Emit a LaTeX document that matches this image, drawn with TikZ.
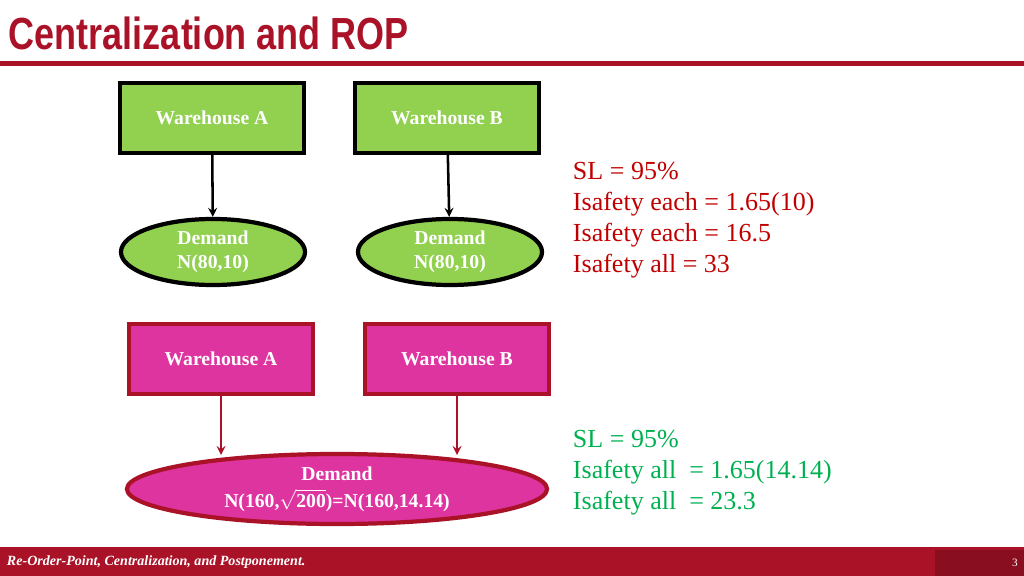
\documentclass[tikz,border=0pt]{standalone}
\usepackage{fontspec}
\setmainfont{Liberation Serif}
\newfontfamily\titlefont[FakeStretch=0.8]{Liberation Sans Bold}
\usetikzlibrary{positioning,shapes.geometric}
\definecolor{darkred}{RGB}{170,18,40}
\definecolor{txtred}{RGB}{192,0,0}
\definecolor{boxgreen}{RGB}{146,208,80}
\definecolor{boxpink}{RGB}{222,52,160}
\definecolor{txtgreen}{RGB}{0,176,80}
\tikzset{
  greenbox/.style={draw=black,line width=3pt,fill=boxgreen,minimum width=4.6cm,minimum height=1.75cm,font=\fontsize{14}{16}\selectfont\bfseries,text=white},
  pinkbox/.style={draw=darkred,line width=3pt,fill=boxpink,minimum width=4.6cm,minimum height=1.75cm,font=\fontsize{14}{16}\selectfont\bfseries,text=white},
  greenell/.style={ellipse,draw=black,line width=3pt,fill=boxgreen,minimum width=4.6cm,minimum height=1.65cm,inner sep=1pt,align=center,font=\fontsize{14}{17}\selectfont\bfseries,text=white},
  pinkell/.style={ellipse,draw=darkred,line width=3pt,fill=boxpink,minimum width=10.5cm,minimum height=1.75cm,inner sep=1pt,align=center,font=\fontsize{14}{19}\selectfont\bfseries,text=white},
  note/.style={anchor=west,align=left,font=\fontsize{18.5}{22}\selectfont}
}
\begin{document}
\begin{tikzpicture}[x=0.025cm,y=-0.025cm]
	\useasboundingbox (0,0) rectangle (1024,576);
	% title
	\node[anchor=west,text=darkred,font=\titlefont\fontsize{32}{34}\selectfont] (title) at (4,33) {Centralization and ROP};
	\fill[darkred] (0,61) rectangle (1024,66);
	% decentralized
	\node[greenbox] (wa) at (212,118) {Warehouse A};
	\node[greenbox] (wb) at (447,118) {Warehouse B};
	\node[greenell] (da) at (213,252) {Demand\\N(80,10)};
	\node[greenell] (db) at (450,252) {Demand\\N(80,10)};
	\draw[->,line width=1.8pt,>=stealth] (wa) -- (da);
	\draw[->,line width=1.8pt,>=stealth] (wb) -- (db);
	\node[note,text=txtred] (n1) at (568,220) {SL = 95\%\\Isafety each = 1.65(10)\\Isafety each = 16.5\\Isafety all = 33};
	% centralized
	\node[pinkbox] (pa) at (221,359) {Warehouse A};
	\node[pinkbox] (pb) at (457,359) {Warehouse B};
	\node[pinkell] (dc) at (337,489) {Demand\\N(160,$\sqrt{\mathbf{200}}$)=N(160,14.14)};
	\coordinate (ca) at (221,455);
	\coordinate (cb) at (457,455);
	\draw[->,line width=1.8pt,>=stealth,draw=darkred] (pa.south) -- (ca);
	\draw[->,line width=1.8pt,>=stealth,draw=darkred] (pb.south) -- (cb);
	\node[note,text=txtgreen] (n2) at (568,473) {SL = 95\%\\Isafety all ~= 1.65(14.14)\\Isafety all ~= 23.3};
	% footer
	\fill[darkred] (0,547) rectangle (1024,576);
	\fill[darkred!80!black] (935,550) rectangle (1024,576);
	\node[anchor=west,text=white,font=\fontsize{10}{12}\selectfont\itshape\bfseries] (foot) at (2,562) {Re-Order-Point, Centralization, and Postponement.};
	\node[text=white,font=\fontsize{8}{10}\selectfont] (page) at (1015,563) {3};
\end{tikzpicture}
\end{document}
